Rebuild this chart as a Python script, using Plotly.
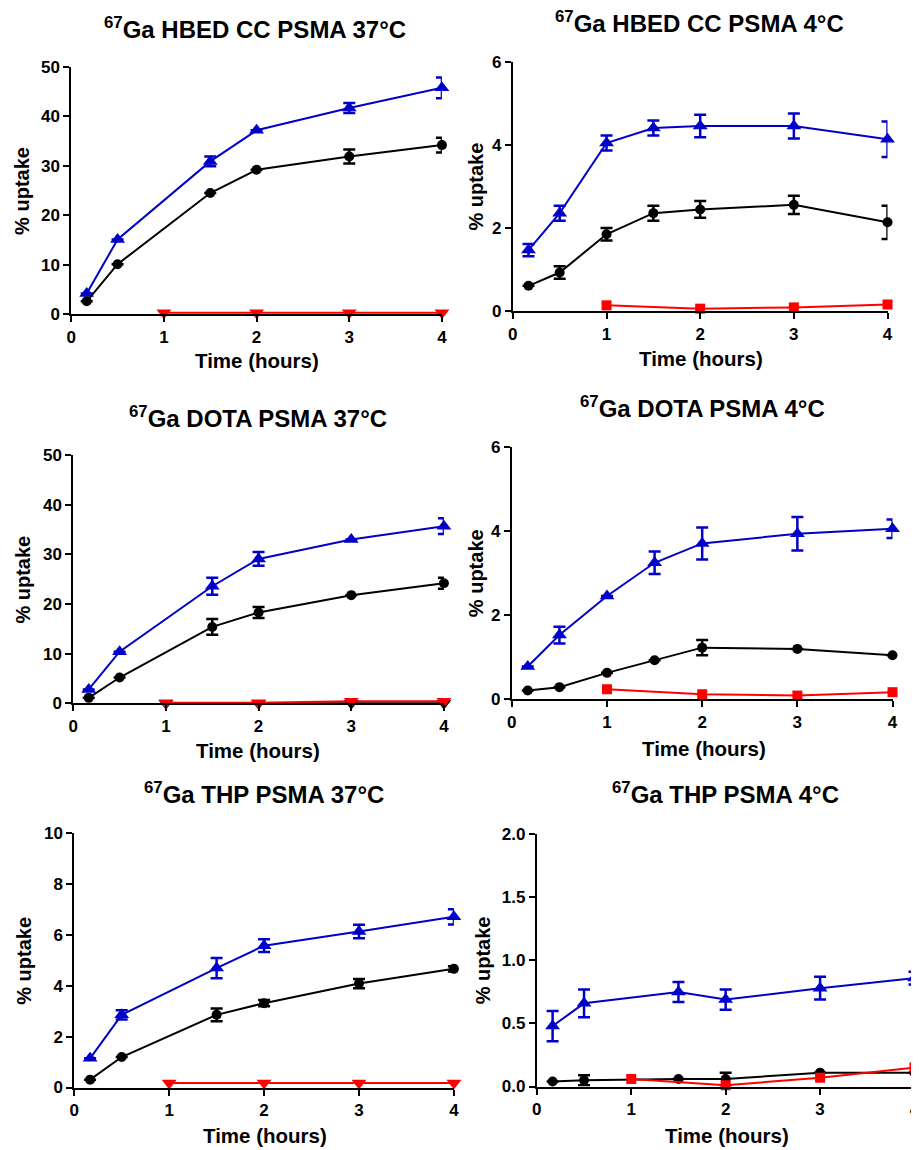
import plotly.graph_objects as go

W, H = 919, 1150

# time points (hours)
t_all = [0.167, 0.5, 1, 1.5, 2, 3, 4]
t_no1 = [0.167, 0.5, 1.5, 2, 3, 4]
t_late = [1, 2, 3, 4]

# 67Ga HBED CC PSMA 37C
hbed37_blue = [4.2, 15.1, 30.9, 37.2, 41.7, 45.8]
hbed37_blue_err = [0, 0, 1.0, 0, 1.0, 2.1]
hbed37_black = [2.6, 10.1, 24.5, 29.2, 31.9, 34.2]
hbed37_black_err = [0, 0, 0, 0, 1.4, 1.5]
hbed37_red = [0.3, 0.3, 0.3, 0.3]

# 67Ga HBED CC PSMA 4C
hbed4_blue = [1.47, 2.36, 4.05, 4.41, 4.46, 4.46, 4.14]
hbed4_blue_err = [0.15, 0.18, 0.18, 0.18, 0.27, 0.3, 0.43]
hbed4_black = [0.61, 0.93, 1.85, 2.36, 2.45, 2.56, 2.14]
hbed4_black_err = [0, 0.15, 0.15, 0.18, 0.2, 0.22, 0.4]
hbed4_red = [0.14, 0.06, 0.09, 0.16]

# 67Ga DOTA PSMA 37C
dota37_blue = [2.8, 10.4, 23.6, 29.1, 33.0, 35.7]
dota37_blue_err = [0, 0, 1.7, 1.4, 0, 1.6]
dota37_black = [1.1, 5.2, 15.4, 18.3, 21.8, 24.2]
dota37_black_err = [0, 0, 1.6, 1.1, 0, 1.1]
dota37_black0 = [0, 0, 0, 0]
dota37_red = [0.1, 0.1, 0.4, 0.4]

# 67Ga DOTA PSMA 4C
dota4_blue = [0.78, 1.53, 2.46, 3.25, 3.71, 3.94, 4.06]
dota4_blue_err = [0, 0.2, 0, 0.27, 0.38, 0.4, 0.22]
dota4_black = [0.21, 0.29, 0.63, 0.93, 1.23, 1.2, 1.05]
dota4_black_err = [0, 0, 0, 0, 0.18, 0, 0]
dota4_red = [0.24, 0.12, 0.09, 0.17]

# 67Ga THP PSMA 37C
thp37_blue = [1.15, 2.86, 4.7, 5.58, 6.14, 6.72]
thp37_blue_err = [0, 0.18, 0.4, 0.25, 0.27, 0.3]
thp37_black = [0.31, 1.2, 2.86, 3.32, 4.09, 4.67]
thp37_black_err = [0, 0, 0.25, 0.12, 0.18, 0.1]
thp37_red = [0.18, 0.18, 0.18, 0.18]

# 67Ga THP PSMA 4C
thp4_blue = [0.48, 0.66, 0.75, 0.69, 0.78, 0.86]
thp4_blue_err = [0.12, 0.11, 0.08, 0.08, 0.09, 0.05]
thp4_black = [0.04, 0.05, 0.06, 0.06, 0.11, 0.11]
thp4_black_err = [0, 0.04, 0, 0.05, 0, 0]
thp4_red = [0.06, 0.01, 0.07, 0.15]

BLUE = '#0000c8'
RED = '#ff0000'
BLACK = '#000000'
FONT = 'Liberation Sans, Arial, sans-serif'

# the captured page comes out slightly shifted and shrunk, so screen
# positions (in pixels) are mapped back to figure coordinates here
AX, BX = 11.7, 0.99
AY, BY = 17.0, 0.983


def px(x):
    return min(max((x - AX) / BX / W, 0), 1)


def py(y):
    return min(max(1 - (y - AY) / BY / H, 0), 1)


panels = [
    dict(title='<sup>67</sup>Ga HBED CC PSMA 37°C', box=(70, 441, 67, 314), ymax=50, dtick=10, fmt='d',
         series=[(t_no1, hbed37_blue, hbed37_blue_err, BLUE, 'triangle-up'),
                 (t_no1, hbed37_black, hbed37_black_err, BLACK, 'circle'),
                 (t_late, hbed37_red, None, RED, 'triangle-down')],
         tpos=(254, 28), xt=(256, 360), yt=20),
    dict(title='<sup>67</sup>Ga HBED CC PSMA 4°C', box=(512, 887, 62, 311), ymax=6, dtick=2, fmt='d',
         series=[(t_all, hbed4_blue, hbed4_blue_err, BLUE, 'triangle-up'),
                 (t_all, hbed4_black, hbed4_black_err, BLACK, 'circle'),
                 (t_late, hbed4_red, None, RED, 'square')],
         tpos=(699, 22), xt=(700, 358), yt=475),
    dict(title='<sup>67</sup>Ga DOTA PSMA 37°C', box=(72, 443, 455, 703), ymax=50, dtick=10, fmt='d',
         series=[(t_no1, dota37_blue, dota37_blue_err, BLUE, 'triangle-up'),
                 (t_no1, dota37_black, dota37_black_err, BLACK, 'circle'),
                 (t_late, dota37_black0, None, BLACK, 'triangle-down'),
                 (t_late, dota37_red, None, RED, 'triangle-down')],
         tpos=(257, 417), xt=(257, 750), yt=22),
    dict(title='<sup>67</sup>Ga DOTA PSMA 4°C', box=(511, 892, 447, 699), ymax=6, dtick=2, fmt='d',
         series=[(t_all, dota4_blue, dota4_blue_err, BLUE, 'triangle-up'),
                 (t_all, dota4_black, dota4_black_err, BLACK, 'circle'),
                 (t_late, dota4_red, None, RED, 'square')],
         tpos=(702, 407), xt=(703, 748), yt=475),
    dict(title='<sup>67</sup>Ga THP PSMA 37°C', box=(73, 453, 833, 1087), ymax=10, dtick=2, fmt='d',
         series=[(t_no1, thp37_blue, thp37_blue_err, BLUE, 'triangle-up'),
                 (t_no1, thp37_black, thp37_black_err, BLACK, 'circle'),
                 (t_late, thp37_red, None, RED, 'triangle-down')],
         tpos=(263, 793), xt=(264, 1135), yt=23),
    dict(title='<sup>67</sup>Ga THP PSMA 4°C', box=(536, 914, 834, 1086), ymax=2, dtick=0.5, fmt='.1f',
         series=[(t_no1, thp4_blue, thp4_blue_err, BLUE, 'triangle-up'),
                 (t_no1, thp4_black, thp4_black_err, BLACK, 'circle'),
                 (t_late, thp4_red, None, RED, 'square')],
         tpos=(725, 793), xt=(726, 1135), yt=483),
]

SIZES = {'triangle-up': 13, 'triangle-down': 13, 'circle': 10, 'square': 10}

fig = go.Figure()
annotations = []

for i, p in enumerate(panels):
    n = '' if i == 0 else str(i + 1)
    x0, x1, y0, y1 = p['box']
    for xs, ys, err, col, sym in p['series']:
        err_cfg = dict(visible=False)
        if err is not None:
            err_cfg = dict(type='data', array=err, visible=True, color=col, thickness=2.5, width=6)
        fig.add_trace(go.Scatter(
            x=xs, y=ys, mode='lines+markers',
            line=dict(color=col, width=2),
            marker=dict(color=col, symbol=sym, size=SIZES[sym]),
            error_y=err_cfg,
            cliponaxis=False, showlegend=False,
            xaxis='x' + n, yaxis='y' + n,
        ))
    axis_common = dict(
        showgrid=False, zeroline=False,
        showline=True, linecolor='black', linewidth=2,
        ticks='outside', ticklen=6, tickwidth=2, tickcolor='black',
        tickfont=dict(family=FONT, size=17, color='black', weight='bold'),
    )
    fig.layout['xaxis' + n] = dict(
        domain=[px(x0), px(x1)], range=[0, 4], anchor='y' + n,
        tickvals=[0, 1, 2, 3, 4], **axis_common)
    fig.layout['yaxis' + n] = dict(
        domain=[py(y1), py(y0)], range=[0, p['ymax']], anchor='x' + n,
        dtick=p['dtick'], tick0=0, tickformat=p['fmt'], **axis_common)
    annotations.append(dict(text=p['title'], x=px(p['tpos'][0]), y=py(p['tpos'][1]),
                            xref='paper', yref='paper', showarrow=False,
                            xanchor='center', yanchor='middle',
                            font=dict(family=FONT, size=24, color='black', weight='bold')))
    annotations.append(dict(text='Time (hours)', x=px(p['xt'][0]), y=py(p['xt'][1]),
                            xref='paper', yref='paper', showarrow=False,
                            xanchor='center', yanchor='middle',
                            font=dict(family=FONT, size=20.5, color='black', weight='bold')))
    annotations.append(dict(text='% uptake', x=px(p['yt']), y=py((y0 + y1) / 2),
                            xref='paper', yref='paper', showarrow=False, textangle=-90,
                            xanchor='center', yanchor='middle',
                            font=dict(family=FONT, size=20, color='black', weight='bold')))

fig.update_layout(
    width=W, height=H,
    margin=dict(l=0, r=0, t=0, b=0),
    paper_bgcolor='white', plot_bgcolor='white',
    annotations=annotations,
)

fig.write_html("out.html")
